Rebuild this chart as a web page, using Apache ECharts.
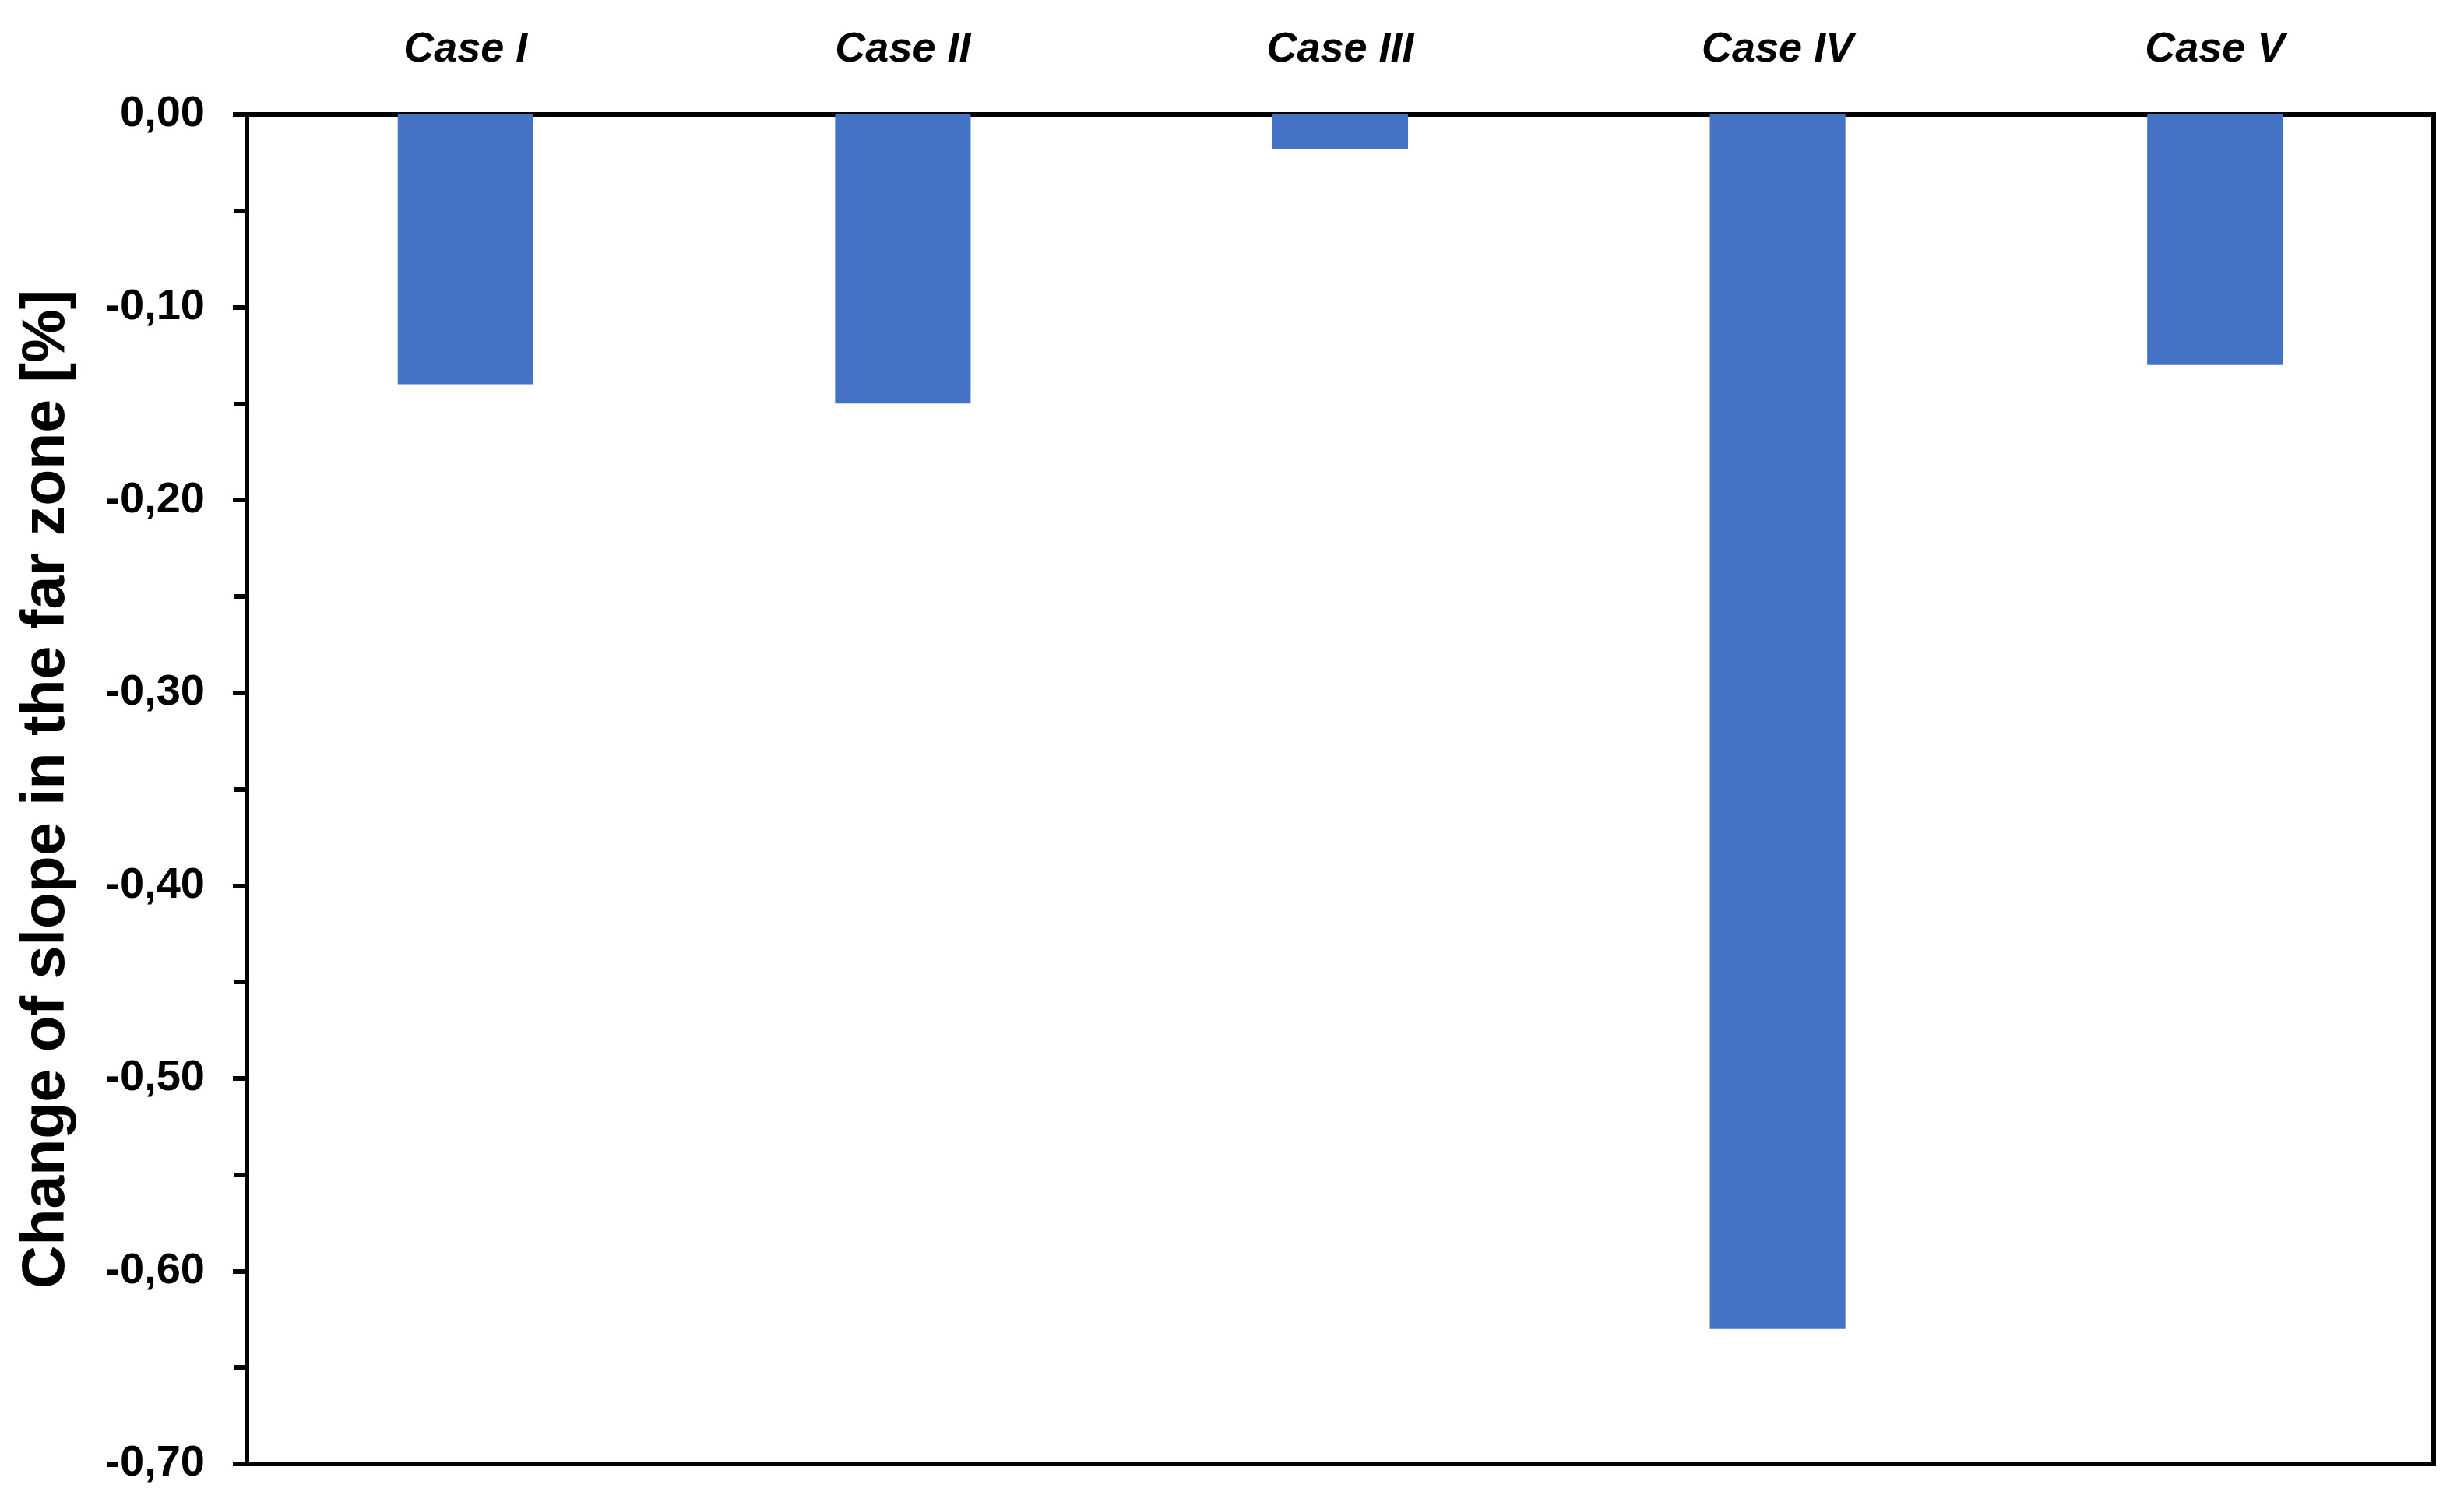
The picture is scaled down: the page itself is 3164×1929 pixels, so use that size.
<!DOCTYPE html>
<html>
<head>
<meta charset="utf-8">
<script src="https://cdn.jsdelivr.net/npm/echarts@6/dist/echarts.min.js"></script>
<style>
html,body{margin:0;padding:0;background:#fff;}
#chart{width:3164px;height:1929px;}
</style>
</head>
<body>
<div id="chart"></div>
<script>
const categories = ['Case I', 'Case II', 'Case III', 'Case IV', 'Case V'];
const values = [-0.14, -0.15, -0.018, -0.63, -0.13];
const yTitle = 'Change of slope in the far zone [%]';

const chart = echarts.init(document.getElementById('chart'));
chart.setOption({
  backgroundColor: '#fff',
  animation: false,
  grid: {
    left: 317, right: 39, top: 147, bottom: 49,
    show: true, borderColor: '#000', borderWidth: 6, backgroundColor: '#fff'
  },
  xAxis: {
    type: 'category',
    data: categories,
    position: 'top',
    axisLine: { show: true, onZero: false, lineStyle: { color: '#000', width: 6 } },
    axisTick: { show: false },
    axisLabel: {
      margin: 56,
      fontFamily: 'Liberation Sans, Arial, sans-serif',
      fontWeight: 'bold', fontStyle: 'italic', fontSize: 54, color: '#000'
    }
  },
  yAxis: {
    type: 'value',
    min: -0.7, max: 0, interval: 0.1,
    name: yTitle,
    nameLocation: 'middle',
    nameGap: 218,
    nameRotate: 90,
    nameTextStyle: {
      fontFamily: 'Liberation Sans, Arial, sans-serif',
      fontWeight: 'bold', fontSize: 77, color: '#000'
    },
    axisLine: { show: true, lineStyle: { color: '#000', width: 6 } },
    axisTick: { show: true, inside: false, length: 18, lineStyle: { color: '#000', width: 6 } },
    minorTick: { show: true, splitNumber: 2, length: 16, lineStyle: { color: '#000', width: 6 } },
    splitLine: { show: false },
    axisLabel: {
      margin: 54,
      fontFamily: 'Liberation Sans, Arial, sans-serif',
      fontWeight: 'bold', fontSize: 56, color: '#000',
      formatter: function (v) { return (Math.abs(v) < 1e-9 ? 0 : v).toFixed(2).replace('.', ','); }
    }
  },
  series: [{
    type: 'bar',
    data: values,
    barWidth: '31%',
    itemStyle: { color: '#4472C4' }
  }]
});
</script>
</body>
</html>
